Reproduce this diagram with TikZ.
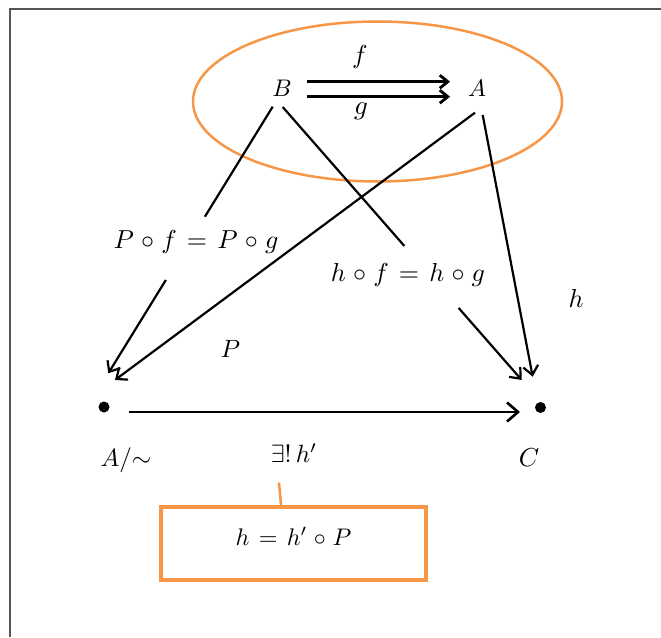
\documentclass[tikz,border=0pt]{standalone}
\usepackage{graphicx}
\usetikzlibrary{arrows.meta,calc}
\definecolor{orng}{HTML}{F79646}
\definecolor{framec}{HTML}{555555}
\medmuskip=5mu
\thickmuskip=7mu
\newcommand{\mS}[2]{\scalebox{#1}{$#2$}}
\begin{document}
\begin{tikzpicture}[x=1pt,y=-1pt,
  lbl/.style={inner sep=0pt},
  ln/.style={line width=2.2pt},
  arr/.style={line width=2.2pt, -{Straight Barb[length=9pt,width=15pt]}},
  harr/.style={line width=2.6pt, -{Straight Barb[length=11pt,width=19pt]}},
  dbl/.style={line width=2.8pt, -{Straight Barb[length=8pt,width=13pt]}},
  dotn/.style={circle, fill=black, inner sep=0pt, minimum size=11pt},
  oline/.style={draw=orng, line width=2.5pt},
  obox/.style={draw=orng, line width=4pt, minimum width=264.5pt, minimum height=73.5pt,
    inner sep=0pt, text height=16pt, text depth=13.4pt},
]
\useasboundingbox (0,0) rectangle (661,637);
% frame
\draw[framec, line width=2pt] (661,9) -- (10,9) -- (10,637);
% ellipse
\draw[oline] (377.5,101.5) ellipse [x radius=184.5, y radius=80];
% nodes
\node[lbl] (B) at (282,88) {\mS{2.4}{B}};
\node[lbl] (A) at (477,88) {\mS{2.4}{A}};
\node[lbl] (f) at (360,56.8) {\mS{2.6}{f}};
\node[lbl] (g) at (361,111) {\mS{2.7}{g}};
\node[dotn] (L) at (104,407) {};
\node[dotn] (R) at (540.5,407.5) {};
\node[lbl] (pfg) at (196,241.8) {\mS{2.6}{P\circ f=P\circ g}};
\node[lbl] (hfg) at (408,274.5) {\mS{2.6}{h\circ f=h\circ g}};
\node[lbl] (P) at (230.5,348.5) {\mS{2.5}{P}};
\node[lbl] (h) at (576,298) {\mS{2.6}{h}};
\node[lbl] (Aq) at (126,460.5) {\mS{2.5}{A/{\sim}}};
\node[lbl] (ex) at (294,453) {\mS{2.5}{\exists!\,h'}};
\node[lbl] (C) at (529,457.5) {\mS{2.6}{C}};
\node[obox] (hb) at (293.5,543.7) {\mS{2.4}{h=h'\circ P}};
% f and g
\draw[dbl] ([shift={(25,-6.3)}]B.center) -- ([shift={(-27,-6.3)}]A.center);
\draw[dbl] ([shift={(25,8.7)}]B.center) -- ([shift={(-27,8.7)}]A.center);
% end points
\coordinate (bl1) at ([shift={(-9.3,18.7)}]B.center);
\coordinate (bl2) at ([shift={(4.3,-33.7)}]L.center);
\coordinate (bc1) at ([shift={(0.7,19)}]B.center);
\coordinate (bc2) at ([shift={(-18.8,-27.5)}]R.center);
\coordinate (al1) at ([shift={(-2,24.7)}]A.center);
\coordinate (al2) at ([shift={(11,-27)}]L.center);
\coordinate (ac1) at ([shift={(5.7,27)}]A.center);
\coordinate (ac2) at ([shift={(-7.8,-30.8)}]R.center);
% B -> A/~ (P o f = P o g)
\draw[ln] (bl1) -- ($(bl1)!0.4126!(bl2)$);
\draw[arr] ($(bl1)!0.65!(bl2)$) -- (bl2);
% B -> C (h o f = h o g)
\draw[ln] (bc1) -- ($(bc1)!0.509!(bc2)$);
\draw[arr] ($(bc1)!0.736!(bc2)$) -- (bc2);
% A -> A/~ (P)
\draw[arr] (al1) -- (al2);
% A -> C (h)
\draw[arr] (ac1) -- (ac2);
% A/~ -> C (h')
\draw[harr] ([shift={(25,5)}]L.center) -- ([shift={(-20.5,4.5)}]R.center);
% connector to box
\draw[oline] ([shift={(-15,29.5)}]ex.center) -- ([xshift=-12.5pt]hb.north);
\end{tikzpicture}
\end{document}
